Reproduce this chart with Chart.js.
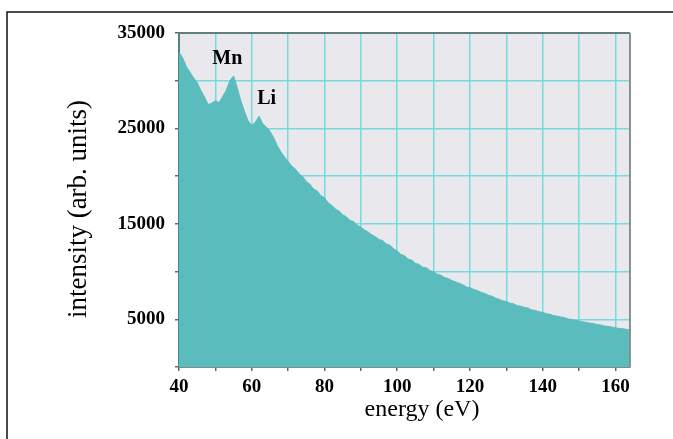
<!DOCTYPE html>
<html>
<head>
<meta charset="utf-8">
<script src="https://cdn.jsdelivr.net/npm/chart.js@4.4.1/dist/chart.umd.min.js"></script>
<style>
  html, body { margin: 0; padding: 0; background: #ffffff; }
  #wrap { position: relative; width: 673px; height: 439px; }
</style>
</head>
<body>
<div id="wrap"><canvas id="spectrum" width="673" height="439"></canvas></div>
<script>
// energy axis (eV), one sample per eV
const energy = [
   40, 41, 42, 43, 44, 45, 46, 47, 48, 49,
   50, 51, 52, 53, 54, 55, 56, 57, 58, 59,
   60, 61, 62, 63, 64, 65, 66, 67, 68, 69,
   70, 71, 72, 73, 74, 75, 76, 77, 78, 79,
   80, 81, 82, 83, 84, 85, 86, 87, 88, 89,
   90, 91, 92, 93, 94, 95, 96, 97, 98, 99,
  100,101,102,103,104,105,106,107,108,109,
  110,111,112,113,114,115,116,117,118,119,
  120,121,122,123,124,125,126,127,128,129,
  130,131,132,133,134,135,136,137,138,139,
  140,141,142,143,144,145,146,147,148,149,
  150,151,152,153,154,155,156,157,158,159,
  160,161,162,163,164
]

// measured intensity (arb. units)
const intensity = [
  33000,32400,31500,30900,30300,29800,29000,28300,27500,27650,
  27900,27700,28350,29000,30000,30500,29300,27900,26800,25800,
  25300,25650,26300,25500,25150,24700,24050,23200,22550,22000,
  21550,21050,20750,20250,19950,19450,19150,18650,18450,17950,
  17750,17200,16950,16550,16350,15950,15750,15350,15250,14850,
  14650,14350,14150,13850,13650,13350,13250,12900,12750,12400,
  12150,11800,11650,11300,11200,10850,10750,10450,10400,10100,
   9980, 9720, 9620, 9380, 9280, 9070, 8930, 8780, 8630, 8380,
   8320, 8130, 8020, 7830, 7720, 7530, 7420, 7230, 7080, 6930,
   6870, 6690, 6620, 6430, 6370, 6240, 6170, 5980, 5920, 5790,
   5720, 5590, 5520, 5390, 5330, 5240, 5170, 5040, 4970, 4890,
   4820, 4740, 4670, 4590, 4560, 4440, 4410, 4290, 4260, 4190,
   4110, 4040, 4010, 3940, 3880
]

// x tick positions (every 10 eV, labelled every 20)
const energyTicks = [40, 50, 60, 70, 80, 90, 100, 110, 120, 130, 140, 150, 160]

// peak labels
const peakNames = ['Mn', 'Li']
const peakEnergy = [53.3, 64.1]
const peakIntensity = [32300, 28100]

const xTitle = 'energy (eV)'
const yTitle = 'intensity (arb. units)'

let _points = energy.map(function(e, i){
    return {x: e, y: intensity[i]}
})

const serif = "'Liberation Serif', 'Times New Roman', serif"

// grey plot background, frame and text overlays
const decorations = {
    id: 'decorations',
    beforeDraw(chart) {
        const {ctx, chartArea: a} = chart
        ctx.save()
        ctx.fillStyle = '#e9e8ec'
        ctx.fillRect(a.left, a.top, a.right - a.left, a.bottom - a.top)
        ctx.restore()
    },
    afterDraw(chart) {
        const {ctx, chartArea: a, scales} = chart
        ctx.save()
        // plot border top / right
        ctx.lineWidth = 2
        ctx.strokeStyle = '#5e7f80'
        ctx.beginPath()
        ctx.moveTo(a.left, a.top)
        ctx.lineTo(a.right, a.top)
        ctx.stroke()
        ctx.strokeStyle = '#8c9090'
        ctx.beginPath()
        ctx.moveTo(a.right, a.top)
        ctx.lineTo(a.right, a.bottom)
        ctx.stroke()

        // outer frame
        ctx.strokeStyle = '#111'
        ctx.lineWidth = 1.5
        ctx.beginPath()
        ctx.moveTo(673, 12)
        ctx.lineTo(7, 12)
        ctx.lineTo(7, 439)
        ctx.stroke()

        // peak names
        ctx.fillStyle = '#000'
        ctx.font = 'bold 20px ' + serif
        ctx.textAlign = 'center'
        ctx.textBaseline = 'middle'
        peakNames.forEach(function(name, i){
            ctx.fillText(name, scales.x.getPixelForValue(peakEnergy[i]), scales.y.getPixelForValue(peakIntensity[i]))
        })

        // axis titles
        ctx.font = '24px ' + serif
        ctx.fillText(xTitle, 422, 410)
        ctx.translate(79, 209)
        ctx.rotate(-Math.PI / 2)
        ctx.font = '27px ' + serif
        ctx.fillText(yTitle, 0, 0)
        ctx.restore()
    }
}

let canvas = document.getElementById('spectrum').getContext('2d')

new Chart(canvas, {
    type: 'line',
    data: {
        datasets: [{
            data: _points,
            borderColor: '#5bbcbd',
            borderWidth: 1,
            backgroundColor: '#5bbcbd',
            fill: 'origin',
            pointRadius: 0,
            tension: 0
        }]
    },
    options: {
        responsive: false,
        animation: false,
        events: [],
        plugins: { legend: { display: false }, tooltip: { enabled: false } },
        layout: { padding: { top: 33, right: 43, left: 0, bottom: 0 } },
        scales: {
            x: {
                type: 'linear',
                min: 40,
                max: 164,
                afterFit: function(scale){ scale.height = 72 },
                afterBuildTicks: function(scale){
                    scale.ticks = energyTicks.map(function(v){ return {value: v} })
                },
                grid: { color: '#74dcdf', lineWidth: 1.5, tickColor: '#666', tickLength: 4 },
                border: { color: '#7d8a8a', width: 2 },
                ticks: {
                    autoSkip: false,
                    maxRotation: 0,
                    padding: 5,
                    color: '#000',
                    font: { family: serif, size: 19, weight: 'bold' },
                    callback: function(v){ return v % 20 === 0 ? v : '' }
                }
            },
            y: {
                min: 0,
                max: 35000,
                afterFit: function(scale){ scale.width = 179 },
                grid: { color: '#74dcdf', lineWidth: 1.5, tickColor: '#666', tickLength: 4 },
                border: { color: '#4f8586', width: 2 },
                ticks: {
                    stepSize: 5000,
                    autoSkip: false,
                    padding: 10,
                    color: '#000',
                    font: { family: serif, size: 19, weight: 'bold' },
                    callback: function(v){ return (v / 5000) % 2 === 1 ? v : '' }
                }
            }
        }
    },
    plugins: [decorations]
})
</script>
</body>
</html>
